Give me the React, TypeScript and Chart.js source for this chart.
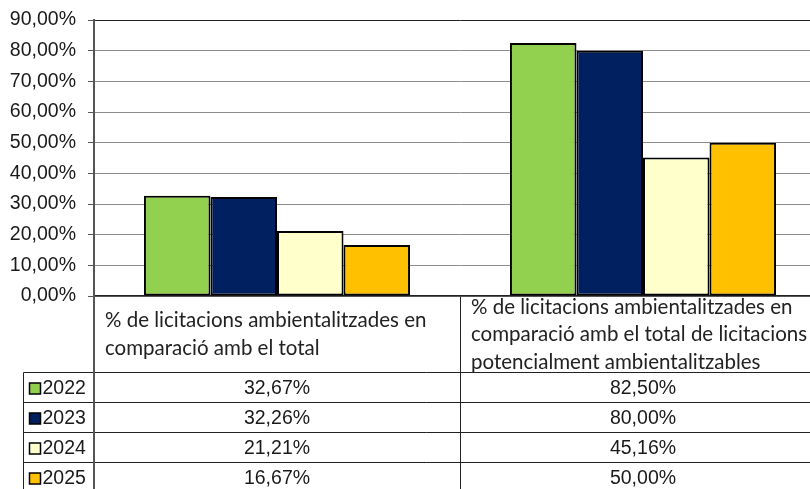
import React, { useEffect, useRef } from 'react';
import { Chart, registerables } from 'chart.js';

Chart.register(...registerables);

const categories: string[][] = [
  ['% de licitacions ambientalitzades en', 'comparació amb el total'],
  ['% de licitacions ambientalitzades en', 'comparació amb el total de licitacions', 'potencialment ambientalitzables'],
];
const seriesLabels = ['2022', '2023', '2024', '2025'];
const values2022 = [32.67, 82.5];
const values2023 = [32.26, 80.0];
const values2024 = [21.21, 45.16];
const values2025 = [16.67, 50.0];
const seriesColors = ['#92D050', '#002060', '#FFFFCC', '#FFC000'];
const yMin = 0;
const yMax = 90;
const yStep = 10;

const fmt = (v: number) => v.toFixed(2).replace('.', ',') + '%';

const NUM_FONT = '19.5px "Liberation Sans", Arial, sans-serif';
const HEAD_FONT = '20.5px Lato, "Open Sans", sans-serif';
const TEXT_COLOR = '#1a1a1a';

const tablePlugin = {
  id: 'dataTable',
  afterDraw(chart: any) {
    const { ctx, chartArea, scales } = chart;
    const x = scales.x;
    const W = chart.width;
    const H = chart.height;
    const headerH = 76;
    const rowH = 30;
    const legendLeft = 23.5;
    const top = Math.round(chartArea.bottom) + 0.5;
    const left = Math.round(chartArea.left);
    const n = chart.data.labels.length;
    const catW = (chartArea.right - chartArea.left) / n;
    const rowsTop = top + headerH;

    ctx.save();
    ctx.strokeStyle = '#222';
    ctx.lineWidth = 1;
    ctx.beginPath();
    for (let i = 0; i <= chart.data.datasets.length; i++) {
      const y = rowsTop + i * rowH;
      ctx.moveTo(legendLeft, y);
      ctx.lineTo(W, y);
    }
    ctx.moveTo(legendLeft, rowsTop);
    ctx.lineTo(legendLeft, H);
    for (let i = 1; i < n; i++) {
      const xv = Math.round(chartArea.left + i * catW) + 0.5;
      ctx.moveTo(xv, top);
      ctx.lineTo(xv, H);
    }
    ctx.stroke();

    ctx.strokeStyle = '#555';
    ctx.lineWidth = 2;
    ctx.beginPath();
    ctx.moveTo(left, chartArea.top);
    ctx.lineTo(left, H);
    ctx.stroke();

    ctx.fillStyle = '#222';
    ctx.font = HEAD_FONT;
    ctx.textAlign = 'left';
    ctx.textBaseline = 'middle';
    const lineH = 27.5;
    chart.data.labels.forEach((lines: string[], i: number) => {
      const cellLeft = chartArea.left + i * catW;
      const cy = top + headerH / 2;
      const startY = cy - ((lines.length - 1) * lineH) / 2;
      lines.forEach((t, j) => {
        ctx.fillText(t, cellLeft + 11, startY + j * lineH);
      });
    });

    ctx.font = NUM_FONT;
    chart.data.datasets.forEach((ds: any, d: number) => {
      const cy = rowsTop + d * rowH + rowH / 2 + 1;
      const sx = legendLeft + 6;
      ctx.fillStyle = ds.backgroundColor;
      ctx.fillRect(sx, cy - 5.5, 11, 11);
      ctx.strokeStyle = '#000';
      ctx.lineWidth = 1.5;
      ctx.strokeRect(sx, cy - 5.5, 11, 11);
      ctx.fillStyle = TEXT_COLOR;
      ctx.textAlign = 'left';
      ctx.fillText(ds.label, legendLeft + 19, cy);
      ctx.textAlign = 'center';
      ds.data.forEach((v: number, i: number) => {
        ctx.fillText(fmt(v), x.getPixelForValue(i), cy);
      });
    });
    ctx.restore();
  },
};

export default function App() {
  const ref = useRef<HTMLCanvasElement | null>(null);
  useEffect(() => {
    if (!ref.current) return;
    const seriesValues = [values2022, values2023, values2024, values2025];
    const chart = new Chart(ref.current, {
      type: 'bar',
      data: {
        labels: categories as any,
        datasets: seriesLabels.map((lab, i) => ({
          label: lab,
          data: seriesValues[i],
          backgroundColor: seriesColors[i],
          borderColor: '#000',
          borderWidth: 2,
          borderSkipped: false,
          categoryPercentage: 0.727,
          barPercentage: 1,
        })),
      },
      options: {
        responsive: false,
        animation: false,
        events: [],
        layout: { autoPadding: false, padding: { top: 20, right: 4, left: 0, bottom: 0 } },
        plugins: { legend: { display: false }, tooltip: { enabled: false } },
        scales: {
          x: {
            grid: { display: false },
            ticks: { display: false },
            border: { display: true, color: '#222', width: 1.5 },
            afterFit: (s: any) => {
              s.height = 193;
              s.paddingLeft = 0;
              s.paddingRight = 0;
            },
          },
          y: {
            min: yMin,
            max: yMax,
            ticks: {
              stepSize: yStep,
              padding: 12,
              color: TEXT_COLOR,
              font: { family: '"Liberation Sans", Arial, sans-serif', size: 19.5 },
              callback: (v: any) => fmt(Number(v)),
            },
            grid: {
              color: (c: any) => (c.tick && c.tick.value === yMax ? '#222' : '#8c8c8c'),
              tickColor: '#555',
              tickLength: 6,
              lineWidth: 1,
            },
            border: { display: true, color: '#555', width: 2 },
            afterFit: (s: any) => {
              s.width = 94;
              s.paddingTop = 0;
              s.paddingBottom = 0;
            },
          },
        },
      },
      plugins: [tablePlugin],
    });
    return () => chart.destroy();
  }, []);
  return (
    <div style={{ position: 'fixed', left: 0, top: 0, width: 810, height: 489, overflow: 'hidden', background: '#fff' }}>
      <canvas ref={ref} width={830} height={489} style={{ display: 'block', width: 830, height: 489 }} />
    </div>
  );
}
